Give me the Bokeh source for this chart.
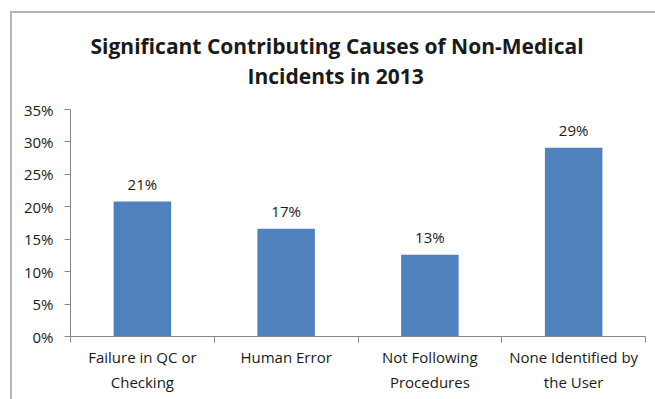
from bokeh.plotting import figure
from bokeh.models import (ColumnDataSource, LinearAxis, FixedTicker, NumeralTickFormatter,
                          LabelSet, Range1d, Title, InlineStyleSheet)
from bokeh.core.properties import value
from bokeh.embed import file_html
from bokeh.resources import INLINE

# ---- data ----
categories = ["Failure in QC or\nChecking", "Human Error",
              "Not Following\nProcedures", "None Identified by\nthe User"]
values = [0.208, 0.166, 0.126, 0.291]
value_labels = ["21%", "17%", "13%", "29%"]
y_ticks = [0, 0.05, 0.10, 0.15, 0.20, 0.25, 0.30, 0.35]

title_lines = ["Significant Contributing Causes of Non-Medical", "Incidents in 2013"]

n = len(categories)
positions = [i + 0.5 for i in range(n)]
boundaries = list(range(n + 1))
first_lines = [c.split("\n")[0] for c in categories]
second_lines = [c.split("\n")[1] if "\n" in c else "" for c in categories]

FONT = "Open Sans"
TXT = "#1a1a1a"
AX = "#868686"

src = ColumnDataSource(dict(x=positions, top=values, lab=value_labels))

p = figure(width=655, height=399, x_range=Range1d(0, n), y_range=Range1d(0, 0.35),
           output_backend="svg", toolbar_location=None, title=None,
           min_border_left=70, min_border_right=10, min_border_top=109, min_border_bottom=63)
p.outline_line_color = None
p.xgrid.visible = False
p.ygrid.visible = False
p.background_fill_color = "white"
p.border_fill_color = "white"

p.vbar(x="x", top="top", width=0.4, source=src, fill_color="#4f81bd", line_color=None)

p.add_layout(LabelSet(x="x", y="top", text="lab", source=src, text_align="center",
                      text_baseline="bottom", y_offset=8, text_font=value(FONT),
                      text_font_size="15px", text_color=TXT))

# y axis
ya = p.yaxis[0]
ya.ticker = FixedTicker(ticks=y_ticks)
ya.formatter = NumeralTickFormatter(format="0%")
ya.minor_tick_line_color = None
ya.major_tick_in = 0
ya.major_tick_out = 6
ya.axis_line_color = AX
ya.major_tick_line_color = AX
ya.major_label_standoff = 11
ya.major_label_text_font = FONT
ya.major_label_text_font_size = "15px"
ya.major_label_text_color = TXT

# x axis with ticks at category boundaries
xa = p.xaxis[0]
xa.ticker = FixedTicker(ticks=boundaries)
xa.major_label_overrides = {b: "" for b in boundaries}
xa.major_label_text_font_size = "1px"
xa.major_label_standoff = 0
xa.minor_tick_line_color = None
xa.major_tick_in = 0
xa.major_tick_out = 6
xa.axis_line_color = AX
xa.major_tick_line_color = AX


def label_axis(lines, standoff):
    a = LinearAxis(ticker=FixedTicker(ticks=positions),
                   major_label_overrides={pos: t for pos, t in zip(positions, lines)})
    a.axis_line_color = None
    a.major_tick_line_color = None
    a.minor_tick_line_color = None
    a.major_tick_out = 0
    a.major_tick_in = 0
    a.major_label_standoff = standoff
    a.major_label_text_font = FONT
    a.major_label_text_font_size = "15px"
    a.major_label_text_color = TXT
    return a


p.add_layout(label_axis(first_lines, 4), "below")
p.add_layout(label_axis(second_lines, 2), "below")

# title: two lines, centred over the whole chart area
title_style = dict(align="left", vertical_align="bottom", standoff=0, text_font=FONT,
                   text_font_style="bold", text_font_size="21px", text_color=TXT)
# blank spacer between plot area and title
p.add_layout(Title(text=" ", text_font_size="10px", standoff=7), "above")
p.add_layout(Title(text=title_lines[1], offset=177, **title_style), "above")
p.add_layout(Title(text=title_lines[0], offset=20, **title_style), "above")

# chart-area border (top and left edges visible)
p.stylesheets = [InlineStyleSheet(css="""
:host::after { content: ''; position: absolute; left: 10px; top: 11px; right: 0; bottom: 0;
  border-top: 2px solid #b4b4b4; border-left: 2px solid #b4b4b4; pointer-events: none; }
""")]

open("out.html", "w").write(file_html(p, INLINE))
